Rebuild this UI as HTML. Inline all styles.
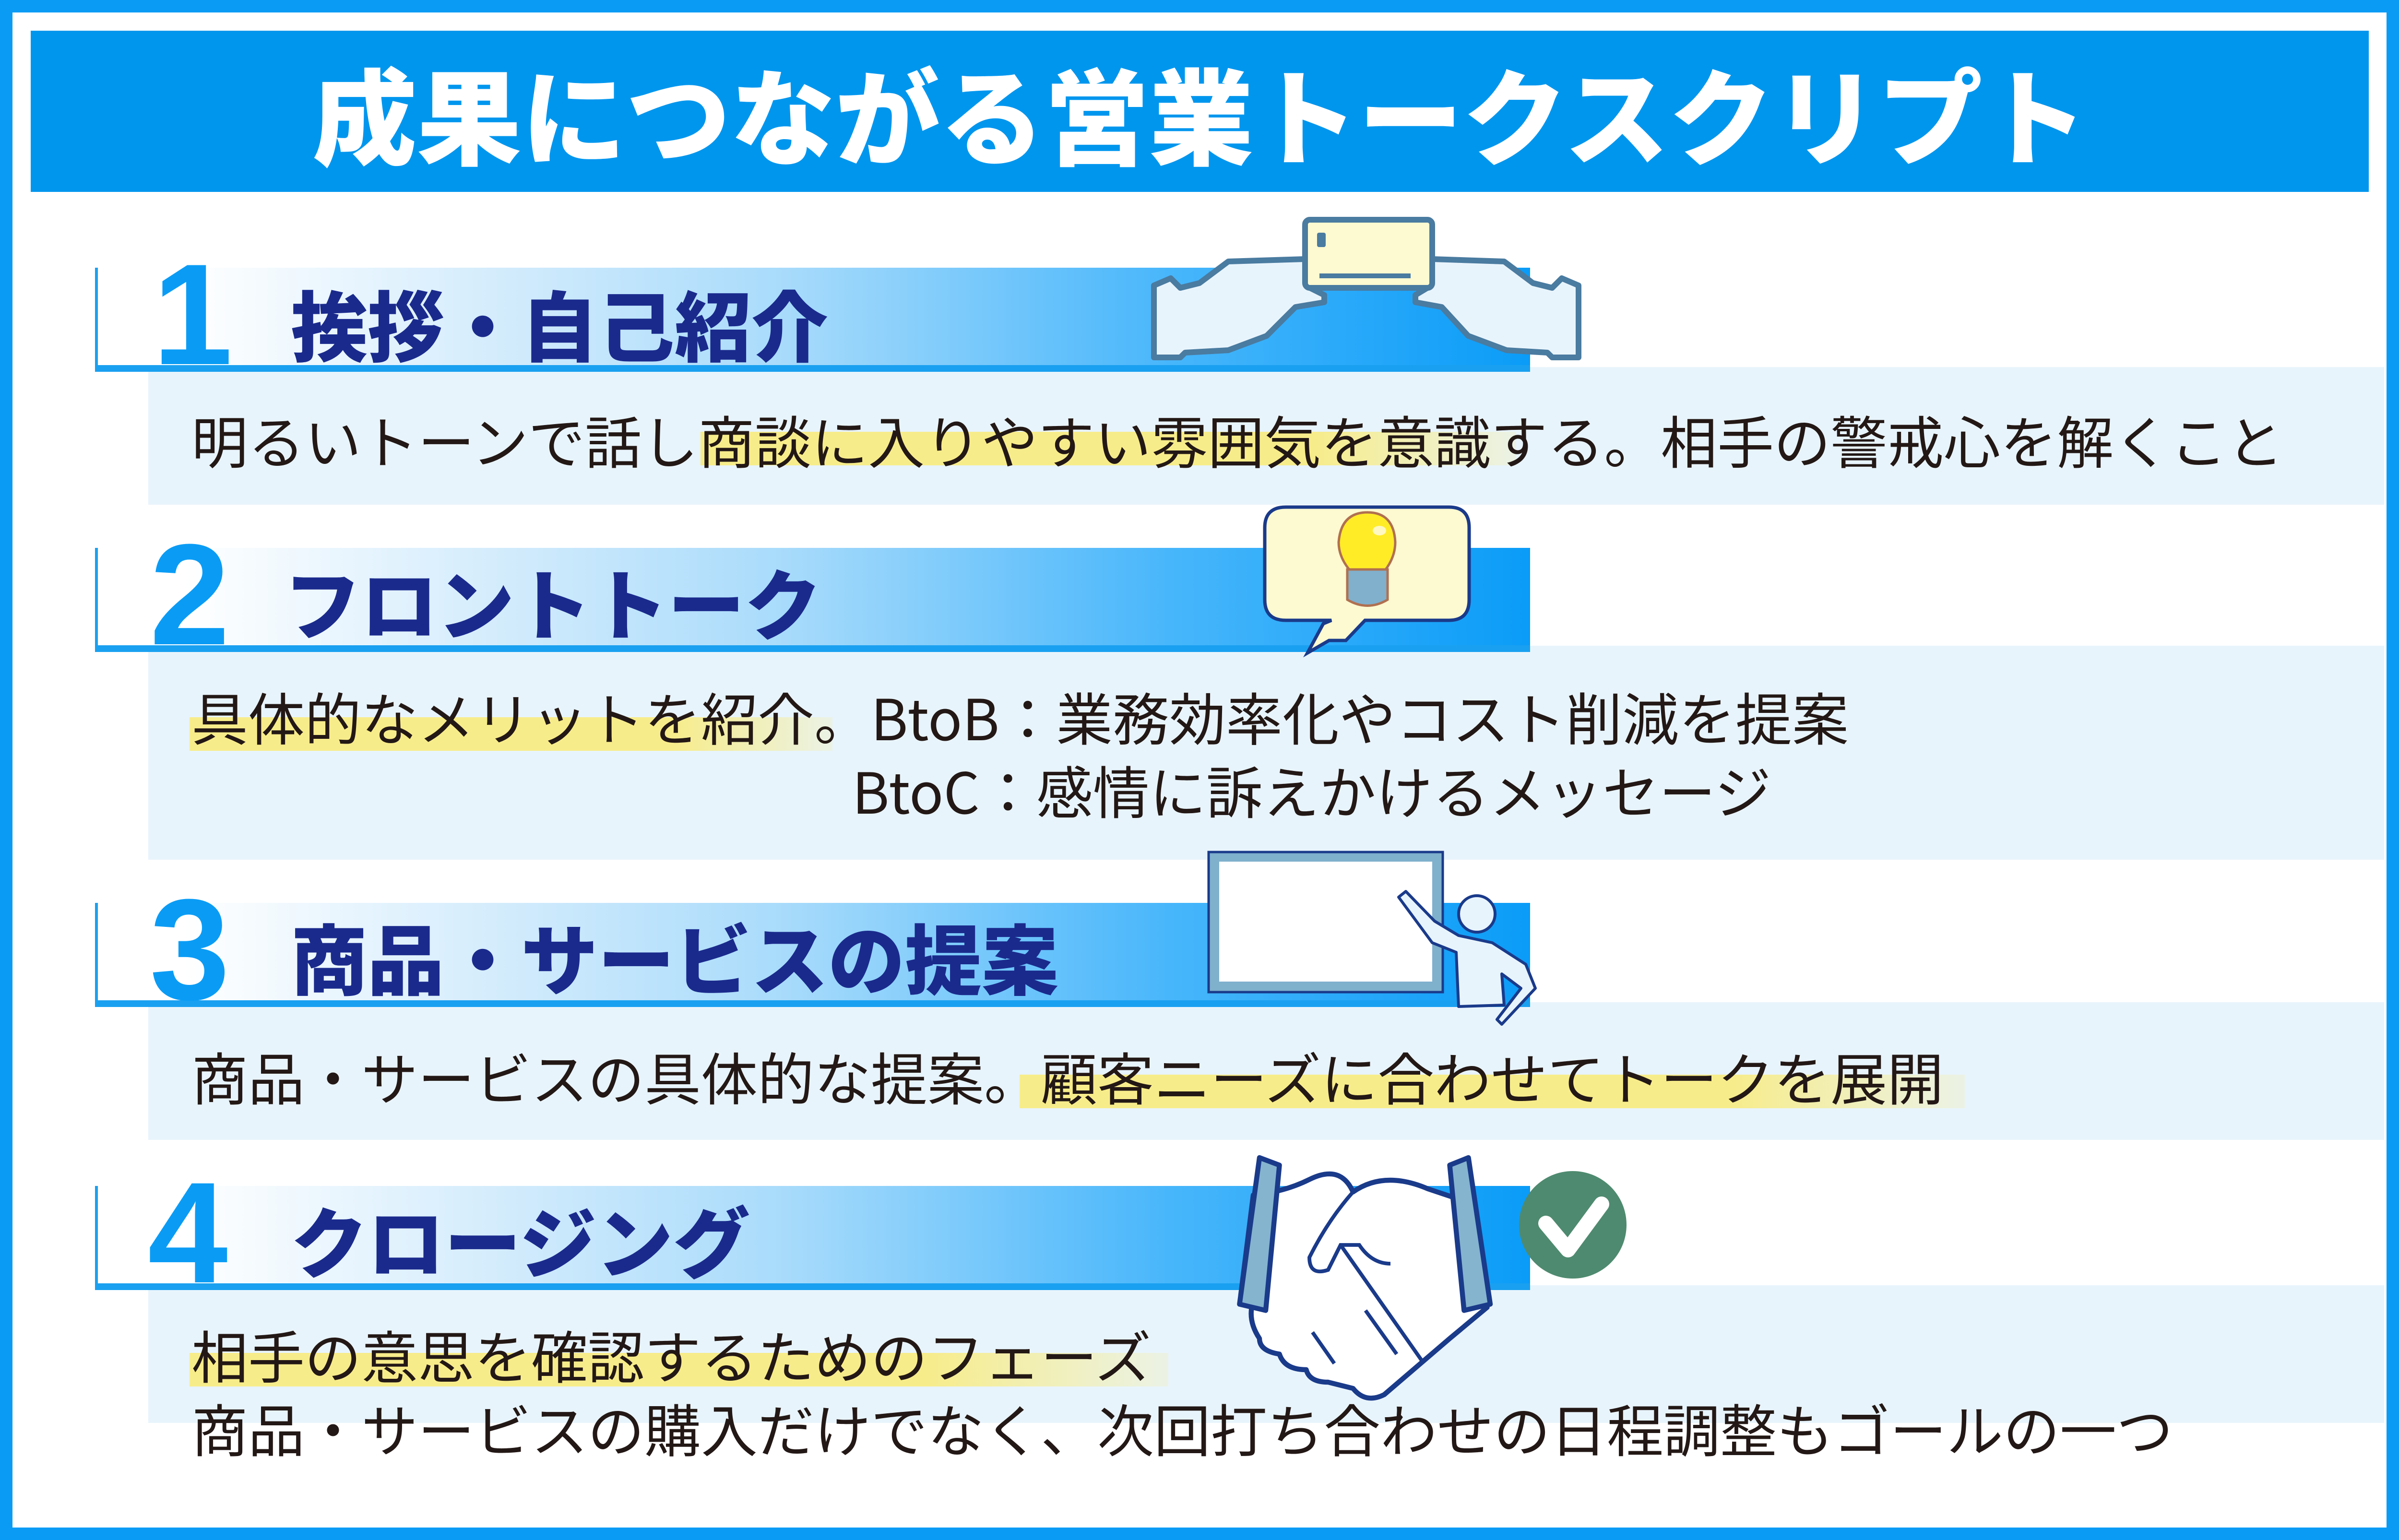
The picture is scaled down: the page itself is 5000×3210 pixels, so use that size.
<!DOCTYPE html>
<html><head><meta charset="utf-8"><style>
*{margin:0;padding:0;box-sizing:border-box}
body{width:5000px;height:3210px;position:relative;background:#fff;overflow:hidden;font-family:"Liberation Sans","Noto Sans CJK JP",sans-serif}
.frame{position:absolute;left:0;top:0;width:5000px;height:3210px;border:26px solid #0a9cf5}
.head{position:absolute;left:64px;top:64px;width:4873px;height:336px;background:#0096ee;color:#fff;font-family:"Noto Sans CJK JP",sans-serif;font-weight:900;font-size:218px;line-height:336px;text-align:center;letter-spacing:0}
.band{position:absolute;left:198px;width:2991px;height:217px;background:linear-gradient(to right,#fff 0%,#fff 6%,#cfeafc 30%,#a8dbfb 48%,#47b6fb 75%,#0a9cf8 100%);border-left:6px solid #1aa0f0;border-bottom:14px solid #1aa0f0}
.num{position:absolute;font-family:"Liberation Sans",sans-serif;font-weight:bold;font-size:300px;line-height:300px;color:#0a9cf5}
.ttl{position:absolute;font-family:"Noto Sans CJK JP",sans-serif;font-weight:900;font-size:160px;line-height:160px;color:#1a2a8c}
.box{position:absolute;left:309px;width:4660px;background:#e8f4fc}
.txt{position:absolute;font-family:"Noto Sans CJK JP",sans-serif;font-size:118px;line-height:118px;color:#231815;white-space:nowrap}
.hl{position:absolute;height:70px;background:linear-gradient(to right,#f7ec8a 0%,#f7ec8a 75%,rgba(247,236,138,0.2) 100%)}
svg{position:absolute;left:0;top:0}
</style></head><body>
<div class="frame"></div>
<div class="head">成果につながる営業トークスクリプト</div>

<div class="box" style="top:765px;height:287px"></div>
<div class="box" style="top:1346px;height:446px"></div>
<div class="box" style="top:2089px;height:287px"></div>
<div class="box" style="top:2679px;height:287px"></div>

<div class="band" style="top:558px"></div>
<div class="band" style="top:1142px"></div>
<div class="band" style="top:1882px"></div>
<div class="band" style="top:2472px"></div>

<div class="num" style="left:318px;top:505px">1</div>
<div class="num" style="left:312px;top:1089px">2</div>
<div class="num" style="left:312px;top:1829px">3</div>
<div class="num" style="left:308px;top:2419px">4</div>

<div class="ttl" style="left:606px;top:592px">挨拶・自己紹介</div>
<div class="ttl" style="left:592px;top:1172px">フロントトーク</div>
<div class="ttl" style="left:606px;top:1912px">商品・サービスの提案</div>
<div class="ttl" style="left:606px;top:2502px">クロージング</div>

<div class="hl" style="left:1460px;top:900px;width:1700px"></div>
<div class="hl" style="left:395px;top:1495px;width:1340px"></div>
<div class="hl" style="left:2125px;top:2240px;width:1970px"></div>
<div class="hl" style="left:395px;top:2820px;width:2040px"></div>

<div class="txt" style="left:399px;top:856px">明るいトーンで話し商談に入りやすい雰囲気を意識する。相手の警戒心を解くこと</div>
<div class="txt" style="left:399px;top:1433px">具体的なメリットを紹介。BtoB：業務効率化やコスト削減を提案</div>
<div class="txt" style="left:1776px;top:1586px">BtoC：感情に訴えかけるメッセージ</div>
<div class="txt" style="left:399px;top:2183px">商品・サービスの具体的な提案。顧客ニーズに合わせてトークを展開</div>
<div class="txt" style="left:399px;top:2763px">相手の意思を確認するためのフェーズ</div>
<div class="txt" style="left:399px;top:2916px">商品・サービスの購入だけでなく、次回打ち合わせの日程調整もゴールの一つ</div>

<svg width="5000" height="3210" viewBox="0 0 5000 3210">
<!-- card & hands -->
<g stroke="#4a7ba0" stroke-width="12" stroke-linejoin="round">
<path d="M2405 595 L2440 580 L2460 600 L2500 590 L2560 545 L2720 540 L2730 600 L2760 615 L2760 630 L2700 640 L2640 700 L2560 730 L2470 735 L2460 745 L2405 745 Z" fill="#e8f4fc"/>
<path d="M3290 595 L3255 580 L3235 600 L3195 590 L3135 545 L2985 540 L2975 600 L2950 615 L2950 630 L3005 640 L3060 700 L3140 730 L3225 735 L3235 745 L3290 745 Z" fill="#e8f4fc"/>
<rect x="2720" y="458" width="265" height="142" rx="10" fill="#fdf9d0"/>
</g>
<rect x="2745" y="485" width="18" height="30" rx="4" fill="#4a7ba0"/>
<rect x="2750" y="570" width="190" height="10" fill="#4a7ba0"/>
<!-- bulb bubble -->
<path d="M2680 1057 L3020 1057 Q3062 1057 3062 1100 L3062 1250 Q3062 1293 3020 1293 L2845 1293 L2805 1335 L2770 1335 L2725 1361 L2758 1300 L2775 1293 L2680 1293 Q2636 1293 2636 1250 L2636 1100 Q2636 1057 2680 1057 Z" fill="#fdf9d0" stroke="#1a3a8a" stroke-width="7"/>
<path d="M2812 1187 Q2790 1160 2790 1130 Q2795 1068 2850 1068 Q2905 1068 2908 1130 Q2908 1160 2888 1187 Z" fill="#ffec26" stroke="#b07050" stroke-width="5"/>
<ellipse cx="2875" cy="1106" rx="14" ry="10" fill="#fff8c0"/>
<path d="M2808 1187 L2892 1187 L2892 1250 Q2850 1275 2808 1250 Z" fill="#80b0cc" stroke="#b07050" stroke-width="5"/>
<!-- whiteboard -->
<rect x="2530" y="1785" width="466" height="272" fill="#fff" stroke="#7fb0cc" stroke-width="22"/>
<rect x="2519" y="1776" width="488" height="292" fill="none" stroke="#1a3a8a" stroke-width="5"/>
<g stroke="#1a3a8a" stroke-width="6" fill="#e8f4fc" stroke-linejoin="round">
<path d="M2915 1870 L2930 1858 L2990 1920 L3040 1950 L3110 1965 L3180 2010 L3200 2060 L3130 2135 L3120 2125 L3170 2060 L3130 2030 L3135 2095 L3040 2098 L3035 1985 L2985 1965 Z"/>
<circle cx="3078" cy="1905" r="38"/>
</g>
<!-- handshake -->
<g transform="translate(2846 2660) scale(1.3) translate(-2850 -2690)">
<g stroke="#1a3a8a" stroke-width="8" stroke-linejoin="round">
<path d="M2670 2560 Q2720 2555 2760 2535 Q2810 2510 2830 2555 Q2880 2520 2950 2550 L3025 2575 L3045 2740 L2985 2790 L2880 2880 Q2850 2895 2830 2870 L2790 2860 Q2760 2860 2755 2840 Q2720 2840 2712 2815 Q2680 2810 2680 2790 Q2660 2760 2670 2730 L2650 2720 Z" fill="#fff"/>
<path d="M2680 2500 L2712 2512 L2690 2745 L2648 2735 Z" fill="#85b4cf"/>
<path d="M3015 2500 L2985 2512 L3008 2745 L3050 2735 Z" fill="#85b4cf"/>
</g>
<g stroke="#1a3a8a" stroke-width="6" fill="none">
<path d="M2830 2555 Q2790 2600 2760 2660 Q2760 2690 2790 2680 L2810 2640 L2840 2640 Q2860 2670 2890 2670"/>
<path d="M2810 2640 L2940 2825 M2765 2780 L2800 2830 M2850 2745 L2900 2815"/>
</g>
</g>
<!-- check -->
<circle cx="3278" cy="2553" r="112" fill="#4e8a6f"/>
<path d="M3222 2550 L3268 2605 L3338 2510" stroke="#fff" stroke-width="32" fill="none" stroke-linecap="round" stroke-linejoin="round"/>
</svg>
</body></html>
